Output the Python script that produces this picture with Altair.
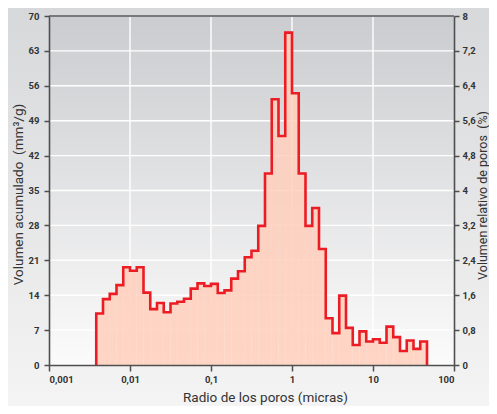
import altair as alt
import pandas as pd

# ---------------- data ----------------
# Relative pore volume (%) per bin; bins are 1/12 decade wide, first bin starts 7/12 decade above 0.001 µm
first_bin_index = 7
bins_per_decade = 12
rel_volume = [1.18, 1.51, 1.63, 1.83, 2.24, 2.16, 2.24, 1.66, 1.28, 1.42,
              1.21, 1.41, 1.45, 1.52, 1.75, 1.87, 1.81, 1.86, 1.65, 1.71,
              1.98, 2.15, 2.47, 2.62, 3.19, 4.39, 6.09, 5.25, 7.62, 6.23,
              4.39, 3.19, 3.60, 2.66, 1.07, 0.73, 1.59, 0.85, 0.46, 0.77,
              0.54, 0.59, 0.51, 0.88, 0.64, 0.32, 0.56, 0.37, 0.54]

x_ticks = [0.001, 0.01, 0.1, 1, 10, 100]
x_grid = [0.01, 0.1, 1, 10]
left_ticks = [0, 7, 14, 21, 28, 35, 42, 49, 56, 63, 70]
right_ticks = [0, 0.8, 1.6, 2.4, 3.2, 4, 4.8, 5.6, 6.4, 7.2, 8]

x_title = "Radio de los poros (micras)"
left_title = "Volumen acumulado \u00a0(mm³/g)"
right_title = "Volumen relativo de poros \u00a0(%)"

# bin edges in pore radius (µm)
edges = [0.001 * 10 ** ((first_bin_index + i) / bins_per_decade) for i in range(len(rel_volume) + 1)]
rows = [{"r": edges[0], "v": 0.0, "o": 0}]
for i, v in enumerate(rel_volume):
    rows.append({"r": edges[i], "v": v, "o": i + 1})
rows.append({"r": edges[-1], "v": 0.0, "o": len(rel_volume) + 1})
hist = pd.DataFrame(rows)

W, H = 405, 349
PAD_L, PAD_T, PAD_R, PAD_B = 41, 8, 35, 41

LABEL_FONT = "Roboto, Liberation Sans, sans-serif"
TITLE_FONT = LABEL_FONT
AX_COL = "#4f4f4f"

x_scale = alt.Scale(type="log", domain=[0.001, 100], nice=False)
x_axis = alt.Axis(values=x_ticks, labelExpr="replace(toString(datum.value), '.', ',')",
                  grid=False, tickSize=6, labelPadding=3, title=x_title,
                  titleX=216, titleY=36, titleBaseline="alphabetic", titleAlign="center",
                  zindex=1)

page_grad = alt.Gradient(gradient="linear", x1=0, x2=0, y1=0, y2=1,
                         stops=[alt.GradientStop(color="#d7d8da", offset=0),
                                alt.GradientStop(color="#f4f4f4", offset=1)])
plot_grad = alt.Gradient(gradient="linear", x1=0, x2=0, y1=0, y2=1,
                         stops=[alt.GradientStop(color="#cbcccf", offset=0),
                                alt.GradientStop(color="#fbfbfb", offset=1)])

one = alt.Data(values=[{"a": 1}])

page_bg = alt.Chart(one).mark_rect(color=page_grad).encode(
    x=alt.value(-PAD_L), x2=alt.value(W + PAD_R), y=alt.value(-PAD_T), y2=alt.value(H + PAD_B))
plot_bg = alt.Chart(one).mark_rect(color=plot_grad).encode(
    x=alt.value(0), x2=alt.value(W), y=alt.value(0), y2=alt.value(H))

vgrid = alt.Chart(pd.DataFrame({"g": x_grid})).mark_rule(color="white", strokeWidth=1.4).encode(
    x=alt.X("g:Q", scale=x_scale, axis=x_axis))

hgrid = alt.Chart(pd.DataFrame({"t": left_ticks})).mark_rule(color="white", strokeWidth=1.4).encode(
    y=alt.Y("t:Q", scale=alt.Scale(domain=[0, 70], nice=False),
            axis=alt.Axis(orient="left", values=left_ticks, grid=False, tickSize=5, labelPadding=5,
                          title=left_title, titleAngle=270, titleX=-27, titleY=178,
                          titleBaseline="alphabetic", titleAlign="center", zindex=1)))

top_rule = alt.Chart(one).mark_rule(color=AX_COL, strokeWidth=1.6).encode(
    x=alt.value(0), x2=alt.value(W), y=alt.value(0))

left = alt.layer(page_bg, plot_bg, vgrid, hgrid, top_rule)

y_right = alt.Y("v:Q", scale=alt.Scale(domain=[0, 8], nice=False),
                axis=alt.Axis(orient="right", values=right_ticks, grid=False, tickSize=5, labelPadding=3,
                              labelExpr="replace(format(datum.value, '.2~f'), '.', ',')",
                              title=right_title, titleAngle=270, titleX=32, titleY=179,
                              titleFontSize=12.5,
                              titleBaseline="alphabetic", titleAlign="center", zindex=1))

area = alt.Chart(hist).mark_area(interpolate="step-after", color="#ffcfbb", opacity=0.85).encode(
    x=alt.X("r:Q", scale=x_scale, axis=x_axis), y=y_right, order="o:Q")
line = alt.Chart(hist).mark_line(interpolate="step-after", color="#ec1c24", strokeWidth=2.6,
                                 strokeJoin="miter").encode(
    x=alt.X("r:Q", scale=x_scale, axis=x_axis), y=y_right, order="o:Q")

right = alt.layer(area, line)

chart = alt.layer(left, right).resolve_scale(y="independent").properties(
    width=W, height=H,
    autosize=alt.AutoSizeParams(type="none"),
    padding={"left": PAD_L, "top": PAD_T, "right": PAD_R, "bottom": PAD_B},
    background="#e6e7e8",
).configure_view(strokeWidth=0).configure_axis(
    labelFont=LABEL_FONT, labelFontSize=9.5, labelFontWeight="bold", labelColor="#333333",
    titleFont=TITLE_FONT, titleFontSize=13.5, titleFontWeight="normal", titleColor="#333333",
    domainColor=AX_COL, domainWidth=1.6, tickColor=AX_COL, tickWidth=1.5,
)

chart.save("out.html", embed_options={"renderer": "svg", "actions": False})
